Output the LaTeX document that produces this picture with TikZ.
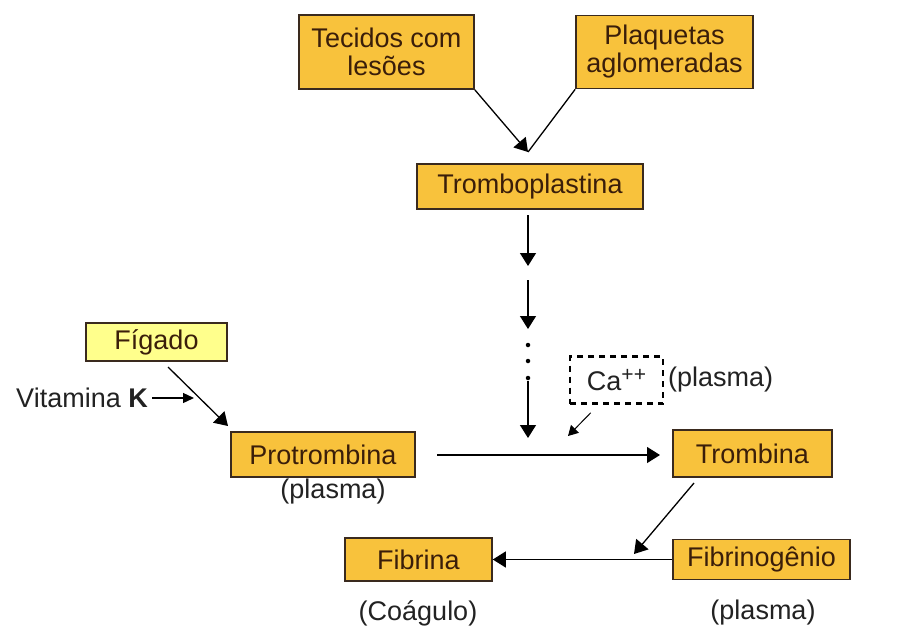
\documentclass[tikz,border=0pt]{standalone}
\usepackage{fontspec}
\setmainfont{Liberation Sans}
\usetikzlibrary{arrows.meta}
\definecolor{boxfill}{HTML}{F8C23C}
\definecolor{lightfill}{HTML}{FFFF8C}
\definecolor{boxline}{HTML}{3A2A1E}
\definecolor{boxtext}{HTML}{3A1E0A}
\definecolor{plaintext}{HTML}{222222}
\tikzset{
  stagebox/.style={draw=boxline, line width=1.6pt, fill=boxfill, text=boxtext,
    inner sep=0pt, align=center, font=\fontsize{27}{28}\selectfont},
  lbl/.style={text=plaintext, inner sep=0pt, font=\fontsize{27}{28}\selectfont},
  conn/.style={line width=1.3pt, draw=black, -{Triangle[length=13pt,width=16pt]}},
  thinconn/.style={line width=1pt, draw=black, -{Triangle[length=10pt,width=11pt]}},
  dotmark/.style={fill=black, circle, inner sep=0pt, minimum size=4.5pt}
}
\begin{document}
\begin{tikzpicture}[x=1pt,y=-1pt]
\useasboundingbox[fill=white] (0,0) rectangle (922,630);

% boxes
\node[stagebox, minimum width=175pt, minimum height=74pt] (tec) at (386.5,52) {Tecidos com\\lesões};
\node[stagebox, minimum width=177pt, minimum height=73pt] (plaq) at (664.5,52) {Plaquetas\\aglomeradas};
\node[stagebox, minimum width=226pt, minimum height=45pt] (trbp) at (530,186.5) {Tromboplastina};
\node[stagebox, fill=lightfill, minimum width=141pt, minimum height=38pt] (fig) at (156.5,342) {Fígado};
\node[stagebox, minimum width=184pt, minimum height=45pt] (prot) at (323,454.5) {Protrombina};
\node[stagebox, minimum width=159pt, minimum height=47pt] (trom) at (752.5,453.5) {Trombina};
\node[stagebox, minimum width=147pt, minimum height=43pt] (fibr) at (418.5,559.5) {Fibrina};
\node[stagebox, minimum width=177pt, minimum height=40pt] (fbgn) at (761.5,559.5) {Fibrinogênio};
\node[draw=black, line width=2.6pt, dash pattern=on 6pt off 5pt, inner sep=0pt,
      minimum width=93pt, minimum height=47pt, text=plaintext,
      font=\fontsize{27}{28}\selectfont] (ca) at (616.5,380)
      {Ca\raisebox{9pt}{\fontsize{21}{21}\selectfont ++}};

% labels
\node[lbl, anchor=west] (caplasma) at (668,380) {(plasma)};
\node[lbl] (protplasma) at (333,492) {(plasma)};
\node[lbl] (coag) at (418,613) {(Coágulo)};
\node[lbl] (fbplasma) at (763,613) {(plasma)};
\node[lbl, anchor=east] (vitk) at (148,398) {Vitamina \textbf{K}};

% coordinates
\coordinate (top) at (528,152);
\coordinate (a1s) at (528,215);
\coordinate (a1e) at (528,266);
\coordinate (a2s) at (528,280);
\coordinate (a2e) at (528,329);
\coordinate (a3s) at (528,381);
\coordinate (a3e) at (528,438);
\coordinate (hs) at (437,455);
\coordinate (he) at (660,455);
\coordinate (cae) at (568,436);
\coordinate (trs) at (694,483);
\coordinate (tre) at (634,554);
\coordinate (figs) at (168,367);
\coordinate (fige) at (228,426);
\coordinate (vke) at (194,398);

% connectors
\draw[conn] (tec.south east) -- (top);
\draw[line width=1.3pt] (plaq.south west) -- (top);
\draw[conn] (a1s) -- (a1e);
\draw[conn] (a2s) -- (a2e);
\node[dotmark] (d1) at (528,345) {};
\node[dotmark] (d2) at (528,361) {};
\node[dotmark] (d3) at (528,378) {};
\draw[conn] (a3s) -- (a3e);
\draw[conn] (hs) -- (he);
\draw[thinconn] (ca.south west) ++(22,8) -- (cae);
\draw[conn] (trs) -- (tre);
\draw[conn] (fbgn.west) -- (fibr.east);
\draw[conn] (figs) -- (fige);
\draw[line width=1.3pt, -{Triangle[length=11pt,width=10pt]}] (vitk.east) ++(4,0) -- (vke);
\end{tikzpicture}
\end{document}
